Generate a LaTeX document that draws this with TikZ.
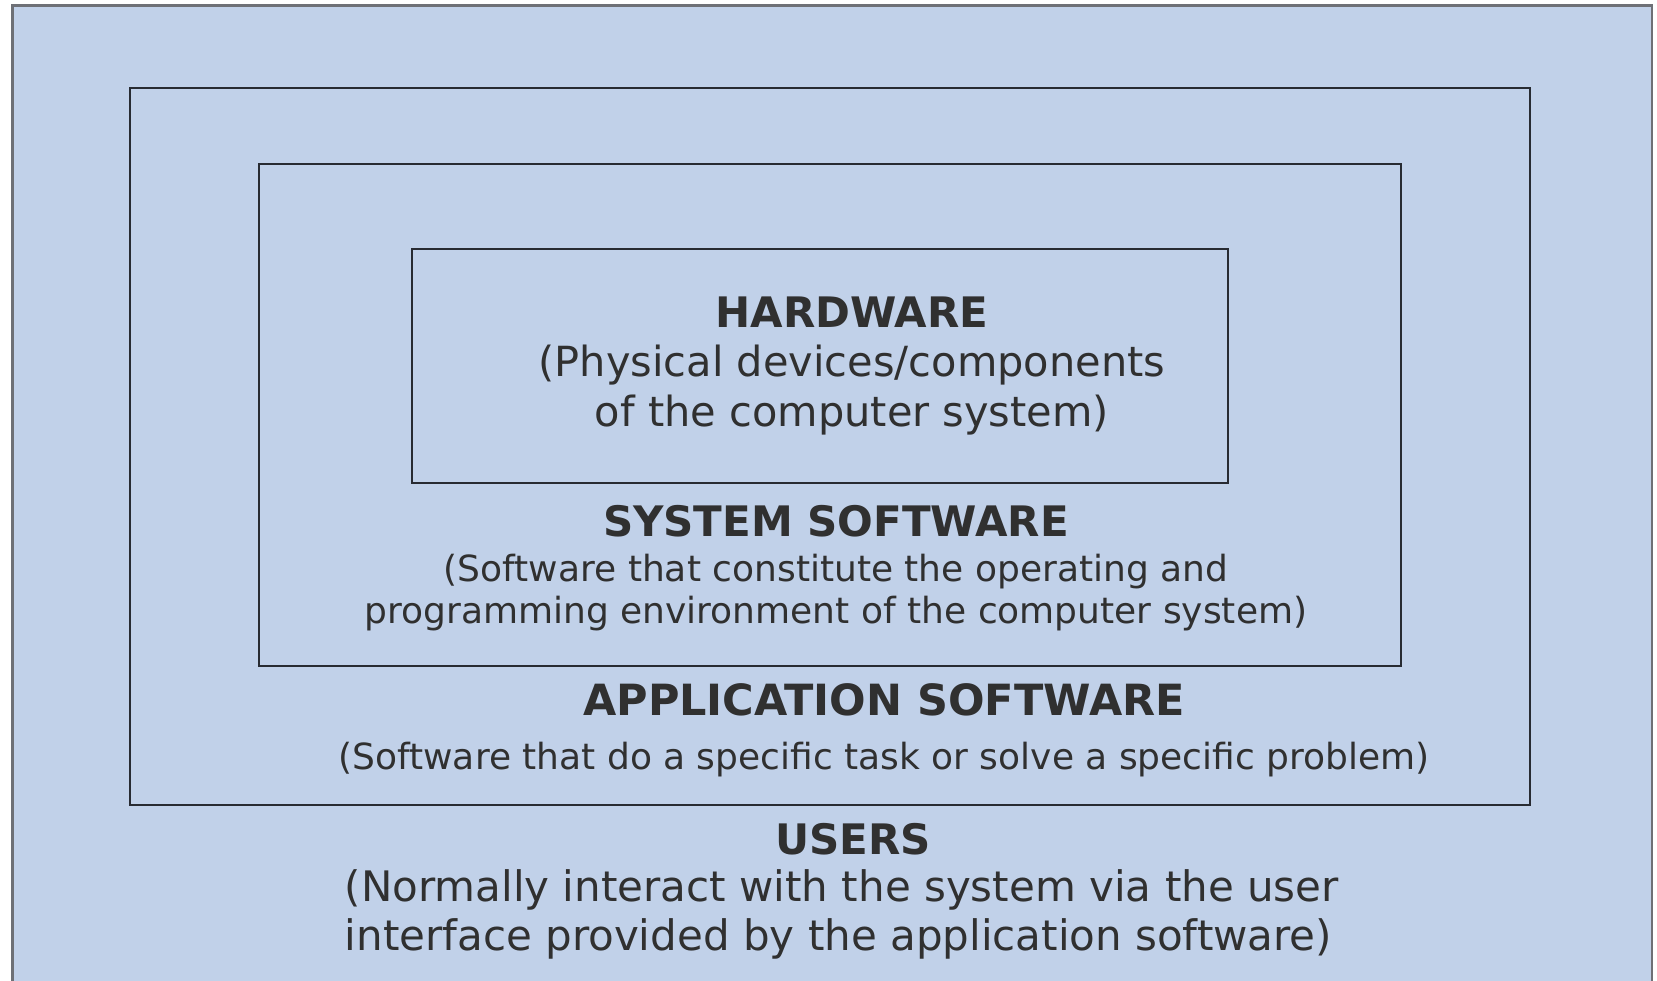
\documentclass[tikz,border=0pt]{standalone}
\usepackage{fontspec}
\setmainfont{DejaVu Sans}
\begin{document}
\begin{tikzpicture}[x=1pt,y=-1pt,
  layer/.style={draw=boxline,line width=2.2pt},
  title/.style={anchor=base,text=ink,inner sep=0pt,font=\bfseries\fontsize{42}{49}\selectfont},
  body/.style={anchor=base,text=ink,inner sep=0pt}]
\definecolor{panel}{RGB}{193,209,233}
\definecolor{boxline}{RGB}{40,43,50}
\definecolor{frame}{RGB}{110,112,118}
\definecolor{ink}{RGB}{48,48,48}
\useasboundingbox (0,0) rectangle (1657,981);
\fill[white] (0,0) rectangle (1657,981);
% outer panel (users)
\begin{scope}
\clip (0,0) rectangle (1657,981);
\draw[fill=panel,draw=frame,line width=2.5pt] (12.7,5.3) rectangle (1652,995);
\end{scope}
% nested layers
\draw[layer] (130,87.7) rectangle (1530,805);
\draw[layer] (259,163.8) rectangle (1401,665.8);
\draw[layer] (412,249.4) rectangle (1228,483);
% hardware
\node[title] (hw) at (852,328) {HARDWARE};
\node[body,font=\fontsize{41.5}{49}\selectfont] (hw1) at (852,377) {(Physical devices/components};
\node[body,font=\fontsize{41.5}{49}\selectfont] (hw2) at (852,426) {of the computer system)};
% system software
\node[title] (sys) at (836,536) {SYSTEM SOFTWARE};
\node[body,font=\fontsize{36}{42}\selectfont] (sys1) at (836,581) {(Software that constitute the operating and};
\node[body,font=\fontsize{36}{42}\selectfont] (sys2) at (836,623) {programming environment of the computer system)};
% application software
\node[title,font=\bfseries\fontsize{43}{49}\selectfont] (app) at (884,715) {APPLICATION SOFTWARE};
\node[body,font=\fontsize{36}{40}\selectfont] (app1) at (884,769) {(Software that do a specific task or solve a specific problem)};
% users
\node[title] (usr) at (853,854) {USERS};
\node[body,anchor=base west,font=\fontsize{42}{48}\selectfont] (usr1) at (344.5,901) {(Normally interact with the system via the user};
\node[body,anchor=base west,font=\fontsize{42}{48}\selectfont] (usr2) at (344.5,950) {interface provided by the application software)};
\end{tikzpicture}
\end{document}
